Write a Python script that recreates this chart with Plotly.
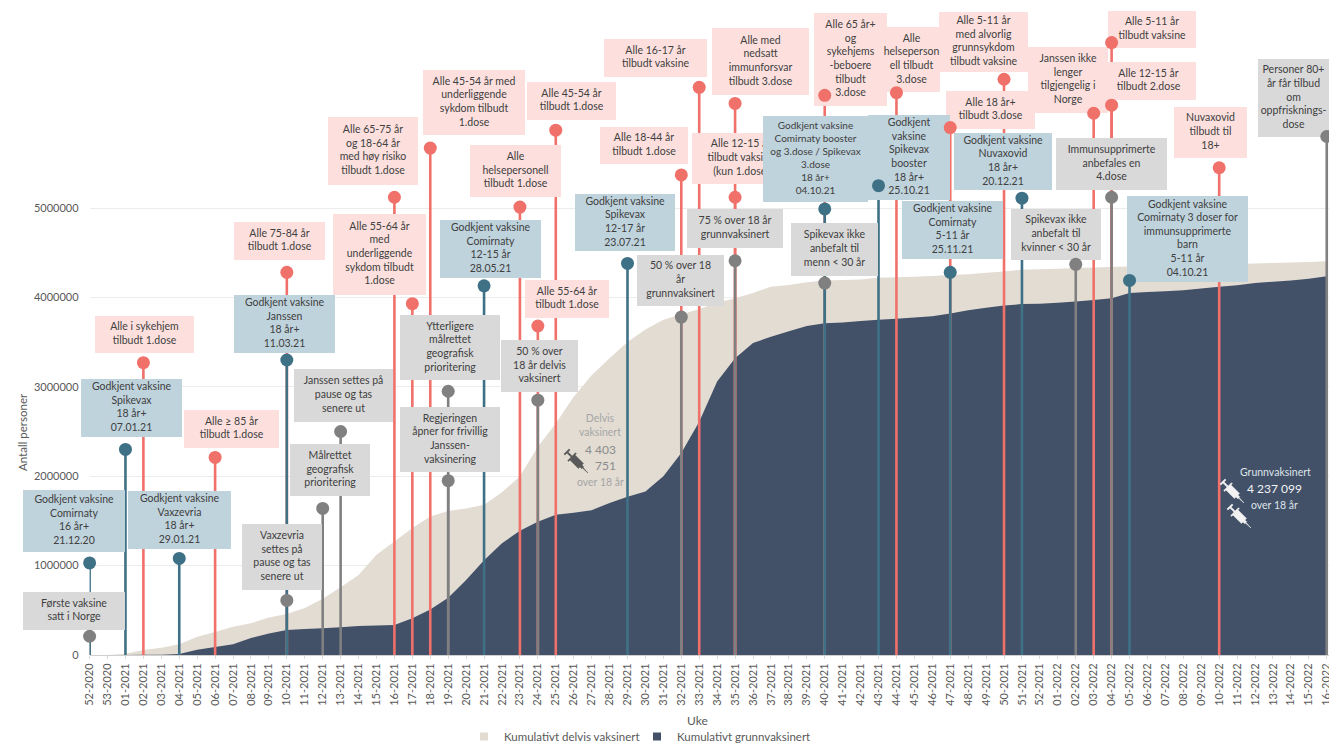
import math
import plotly.graph_objects as go

WIDTH, HEIGHT = 1329, 746
FONT = "Lato"

WEEKS = ["52-2020", "53-2020"] + [f"{w:02d}-2021" for w in range(1, 53)] + [f"{w:02d}-2022" for w in range(1, 17)]

PARTIAL = [0, 0, 15000, 56000, 80000, 120000, 205000, 257000, 317000, 355000, 420000, 460000, 525000, 630000,
           757000, 895000, 1120000, 1270000, 1420000, 1550000, 1610000, 1640000, 1680000, 1820000, 2000000,
           2330000, 2590000, 2890000, 3130000, 3320000, 3500000, 3640000, 3750000, 3810000, 3870000, 3940000,
           3990000, 4050000, 4120000, 4140000, 4170000, 4190000, 4195000, 4200000, 4220000, 4225000, 4230000,
           4240000, 4250000, 4260000, 4275000, 4290000, 4310000, 4315000, 4320000, 4330000, 4335000, 4340000,
           4345000, 4350000, 4355000, 4360000, 4365000, 4370000, 4375000, 4380000, 4385000, 4390000, 4395000,
           4403751]
FULL = [0, 0, 1000, 2000, 4000, 12000, 60000, 90000, 120000, 190000, 240000, 280000, 290000, 300000, 310000,
        325000, 330000, 335000, 410000, 510000, 640000, 840000, 1060000, 1250000, 1390000, 1490000, 1570000,
        1590000, 1620000, 1700000, 1770000, 1830000, 2000000, 2260000, 2610000, 3060000, 3320000, 3490000,
        3560000, 3620000, 3680000, 3710000, 3720000, 3735000, 3750000, 3760000, 3775000, 3790000, 3820000,
        3855000, 3885000, 3910000, 3925000, 3930000, 3940000, 3955000, 3970000, 3990000, 4050000, 4060000,
        4070000, 4080000, 4100000, 4120000, 4135000, 4160000, 4175000, 4190000, 4210000, 4237099]

TICK_VALUES = [0, 1000000, 2000000, 3000000, 4000000, 5000000]

RED_WEEKS = ["02-2021", "06-2021", "10-2021", "16-2021", "17-2021", "18-2021", "23-2021", "24-2021", "25-2021",
             "32-2021", "33-2021", "35-2021", "35-2021", "40-2021", "44-2021", "47-2021", "50-2021", "03-2022",
             "04-2022", "04-2022", "10-2022"]
RED_VALUES = [3270000, 2210000, 4280000, 5120000, 3930000, 5670000, 5010000, 3680000, 5870000,
              5370000, 6350000, 6170000, 5120000, 6260000, 6290000, 5900000, 6440000, 6060000,
              6150000, 6850000, 5450000]

TEAL_WEEKS = ["52-2020", "01-2021", "04-2021", "10-2021", "21-2021", "29-2021", "40-2021", "43-2021", "47-2021",
              "51-2021", "05-2022"]
TEAL_VALUES = [1030000, 2300000, 1080000, 3300000, 4130000, 4380000, 4990000, 5250000, 4280000, 5110000, 4190000]

GREY_WEEKS = ["52-2020", "10-2021", "12-2021", "13-2021", "19-2021", "19-2021", "24-2021", "32-2021", "35-2021",
              "40-2021", "02-2022", "04-2022", "16-2022"]
GREY_VALUES = [210000, 610000, 1640000, 2500000, 2950000, 1950000, 2850000, 3780000, 4410000, 4160000, 4370000,
               5120000, 5800000]

RED_LABELS = [
    "Alle i sykehjem<br>tilbudt 1.dose", "Alle ≥ 85 år<br>tilbudt 1.dose", "Alle 75-84 år<br>tilbudt 1.dose",
    "Alle 65-75 år<br>og 18-64 år<br>med høy risiko<br>tilbudt 1.dose",
    "Alle 55-64 år<br>med<br>underliggende<br>sykdom tilbudt<br>1.dose",
    "Alle 45-54 år med<br>underliggende<br>sykdom tilbudt<br>1.dose",
    "Alle<br>helsepersonell<br>tilbudt 1.dose", "Alle 45-54 år<br>tilbudt 1.dose", "Alle 55-64 år<br>tilbudt 1.dose",
    "Alle 18-44 år<br>tilbudt 1.dose", "Alle 16-17 år<br>tilbudt vaksine",
    "Alle 12-15 år<br>tilbudt vaksine<br>(kun 1.dose)", "Alle med<br>nedsatt<br>immunforsvar<br>tilbudt 3.dose",
    "Alle 65 år+<br>og<br>sykehjems<br>-beboere<br>tilbudt<br>3.dose",
    "Alle<br>helseperson<br>ell tilbudt<br>3.dose",
    "Alle 5-11 år<br>med alvorlig<br>grunnsykdom<br>tilbudt vaksine", "Alle 18 år+<br>tilbudt 3.dose",
    "Janssen ikke<br>lenger<br>tilgjengelig i<br>Norge", "Alle 5-11 år<br>tilbudt vaksine",
    "Alle 12-15 år<br>tilbudt 2.dose", "Nuvaxovid<br>tilbudt til<br>18+",
]
GREY_LABELS = [
    "Første vaksine<br>satt i Norge", "Vaxzevria<br>settes på<br>pause og tas<br>senere ut",
    "Janssen settes på<br>pause og tas<br>senere ut", "Målrettet<br>geografisk<br>prioritering",
    "Ytterligere<br>målrettet<br>geografisk<br>prioritering",
    "Regjeringen<br>åpner for frivillig<br>Janssen-<br>vaksinering",
    "50 % over<br>18 år delvis<br>vaksinert", "50 % over 18<br>år<br>grunnvaksinert",
    "75 % over 18 år<br>grunnvaksinert", "Spikevax ikke<br>anbefalt til<br>menn &lt; 30 år",
    "Spikevax ikke<br>anbefalt til<br>kvinner &lt; 30 år", "Immunsupprimerte<br>anbefales en<br>4.dose",
    "Personer 80+<br>år får tilbud<br>om<br>oppfrisknings-<br>dose",
]
TEAL_LABELS = [
    "Godkjent vaksine<br>Comirnaty<br>16 år+<br>21.12.20", "Godkjent vaksine<br>Spikevax<br>18 år+<br>07.01.21",
    "Godkjent vaksine<br>Vaxzevria<br>18 år+<br>29.01.21", "Godkjent vaksine<br>Janssen<br>18 år+<br>11.03.21",
    "Godkjent vaksine<br>Comirnaty<br>12-15 år<br>28.05.21", "Godkjent vaksine<br>Spikevax<br>12-17 år<br>23.07.21",
    "Godkjent vaksine<br>Comirnaty booster<br>og 3.dose / Spikevax<br>3.dose<br>18 år+<br>04.10.21",
    "Godkjent<br>vaksine<br>Spikevax<br>booster<br>18 år+<br>25.10.21",
    "Godkjent vaksine<br>Comirnaty<br>5-11 år<br>25.11.21", "Godkjent vaksine<br>Nuvaxovid<br>18 år+<br>20.12.21",
    "Godkjent vaksine<br>Comirnaty 3 doser for<br>immunsupprimerte<br>barn<br>5-11 år<br>04.10.21",
]

# Pixel boxes of the callouts, in the same order as the label lists (x0, y0, x1, y1).
RED_BOXES = [(95, 316, 194, 353), (184, 410, 279, 448), (234, 222, 325, 260), (328, 117, 418, 185),
             (333, 214, 426, 295), (423, 70, 525, 135), (470, 145, 561, 197), (527, 82, 616, 120),
             (525, 280, 609, 318), (600, 127, 688, 164), (604, 39, 707, 77), (692, 133, 790, 184),
             (712, 28, 809, 95), (814, 13, 887, 106), (883, 27, 940, 92), (939, 12, 1028, 72),
             (946, 91, 1035, 129), (1028, 47, 1108, 113), (1108, 11, 1196, 48), (1101, 62, 1196, 100),
             (1174, 107, 1247, 158)]
GREY_BOXES = [(23, 592, 125, 630), (242, 524, 322, 590), (294, 369, 393, 422), (290, 444, 370, 496),
              (400, 315, 500, 380), (400, 407, 500, 472), (501, 340, 578, 392), (637, 255, 724, 306),
              (687, 209, 783, 248), (791, 223, 878, 276), (1011, 209, 1101, 260), (1056, 138, 1167, 190),
              (1258, 59, 1329, 137)]
TEAL_BOXES = [(23, 490, 125, 552), (81, 379, 182, 437), (128, 491, 231, 549), (234, 295, 335, 353),
              (440, 220, 541, 278), (575, 194, 675, 251), (763, 116, 868, 202), (868, 115, 950, 200),
              (902, 201, 1003, 259), (954, 133, 1052, 190), (1127, 196, 1248, 282)]
NARROW_LABEL_SIZE = 10  # the long booster callout

RED, TEAL, GREY = "#f0706a", "#3f7186", "#808080"
PINK_BG, GREY_BG, TEAL_BG = "#fde0de", "#d9d9d9", "#bfd3dd"
BEIGE, NAVY = "#e2dcd3", "#425068"
TEXT = "#404040"
MUTED = "#595959"

PLOT_LEFT, PLOT_BOTTOM = 89.6, 655
WEEK_STEP = 17.93
PX_PER_UNIT = 89.4 / 1e6
X_RANGE = [0, (WIDTH - PLOT_LEFT) / WEEK_STEP]
Y_RANGE = [0, PLOT_BOTTOM / PX_PER_UNIT]

fig = go.Figure()

fig.add_trace(go.Scatter(x=WEEKS, y=PARTIAL, fill="tozeroy", mode="none", fillcolor=BEIGE,
                         showlegend=False, hoverinfo="skip"))
fig.add_trace(go.Scatter(x=WEEKS, y=FULL, fill="tozeroy", mode="none", fillcolor=NAVY,
                         showlegend=False, hoverinfo="skip"))


def stems(weeks, values, color):
    xs, ys = [], []
    for w, v in zip(weeks, values):
        xs += [w, w, None]
        ys += [0, v, None]
    fig.add_trace(go.Scatter(x=xs, y=ys, mode="lines", line=dict(color=color, width=2.6),
                             showlegend=False, hoverinfo="skip"))


stems(RED_WEEKS, RED_VALUES, RED)
stems(GREY_WEEKS, GREY_VALUES, GREY)
stems(TEAL_WEEKS, TEAL_VALUES, TEAL)


def callouts(rects, labels, color):
    xs, ys = [], []
    for x0, y0, x1, y1 in rects:
        xs += [x0, x1, x1, x0, x0, None]
        ys += [y0, y0, y1, y1, y0, None]
    fig.add_trace(go.Scatter(x=xs, y=ys, xaxis="x2", yaxis="y2", mode="lines", fill="toself", fillcolor=color,
                             line=dict(width=0, color=color), showlegend=False, hoverinfo="skip"))
    sizes = [NARROW_LABEL_SIZE if "og 3.dose" in t else 10.5 for t in labels]
    fig.add_trace(go.Scatter(x=[(r[0] + r[2]) / 2 for r in rects], y=[(r[1] + r[3]) / 2 for r in rects],
                             xaxis="x2", yaxis="y2", mode="text", text=labels, textposition="middle center",
                             textfont=dict(family=FONT, size=sizes, color=TEXT), cliponaxis=False,
                             showlegend=False, hoverinfo="skip"))


callouts(RED_BOXES, RED_LABELS, PINK_BG)
callouts(GREY_BOXES, GREY_LABELS, GREY_BG)
callouts(TEAL_BOXES, TEAL_LABELS, TEAL_BG)

for weeks, values, color in [(RED_WEEKS, RED_VALUES, RED), (GREY_WEEKS, GREY_VALUES, GREY),
                             (TEAL_WEEKS, TEAL_VALUES, TEAL)]:
    fig.add_trace(go.Scatter(x=weeks, y=values, xaxis="x3", yaxis="y3", mode="markers", cliponaxis=False,
                             marker=dict(color=color, size=13), showlegend=False, hoverinfo="skip"))

# Legend entries
fig.add_trace(go.Scatter(x=[None], y=[None], mode="markers", name="Kumulativt delvis vaksinert",
                         marker=dict(symbol="square", size=8, color=BEIGE)))
fig.add_trace(go.Scatter(x=[None], y=[None], mode="markers", name="Kumulativt grunnvaksinert",
                         marker=dict(symbol="square", size=8, color=NAVY)))

notes = []


def note(text, x, y, size=10.5, color=TEXT, angle=0):
    notes.append(dict(text=text, x=x, y=y, xref="x2", yref="y2", showarrow=False, xanchor="center",
                      yanchor="middle", align="center", textangle=angle,
                      font=dict(family=FONT, size=size, color=color)))


note("Delvis<br>vaksinert", 600, 425, 10.5, "#a6a6a6")
note("4 403", 600, 449, 12, "#8c8c8c")
note("751", 605, 465, 12, "#8c8c8c")
note("over 18 år", 600, 482, 10.5, "#a6a6a6")
note("Grunnvaksinert", 1275, 472, 10.5, "#dfe4ea")
note("4 237 099", 1274, 488, 12, "#f2f4f6")
note("over 18 år", 1274, 505, 10.5, "#dfe4ea")
note("Antall personer", 22, 432, 11.5, MUTED, -90)
note("Uke", 697, 720, 12, MUTED)


def syringe_path(cx, cy, scale=1.0, angle=45):
    parts = [
        [(-5, -3.6), (7, -3.6), (7, 3.6), (-5, 3.6)],
        [(-6.2, -5.5), (-5, -5.5), (-5, 5.5), (-6.2, 5.5)],
        [(-12, -0.8), (-6.2, -0.8), (-6.2, 0.8), (-12, 0.8)],
        [(-13.5, -3.6), (-12, -3.6), (-12, 3.6), (-13.5, 3.6)],
        [(7, -1.4), (9.5, -1.4), (9.5, 1.4), (7, 1.4)],
        [(9.5, -0.4), (17, 0), (9.5, 0.4)],
    ]
    c, s = math.cos(math.radians(angle)), math.sin(math.radians(angle))
    out = []
    for poly in parts:
        pts = [(cx + scale * (u * c - v * s), cy + scale * (u * s + v * c)) for u, v in poly]
        out.append("M" + " L".join(f"{px:.1f},{py:.1f}" for px, py in pts) + " Z")
    return " ".join(out)


SYRINGES = [(576, 461, "#595959"), (1232, 491, "#f2f2f2"), (1239, 516, "#f2f2f2")]
shapes = [dict(type="path", xref="x2", yref="y2", path=syringe_path(x, y), fillcolor=col,
               line=dict(width=0.5, color=col), layer="above") for x, y, col in SYRINGES]

main_x_domain = [PLOT_LEFT / WIDTH, 1]
main_y_domain = [(HEIGHT - PLOT_BOTTOM) / HEIGHT, 1]

fig.update_layout(
    width=WIDTH, height=HEIGHT, autosize=False,
    margin=dict(l=0, r=0, t=0, b=0, pad=0, autoexpand=False),
    paper_bgcolor="white", plot_bgcolor="rgba(0,0,0,0)",
    font=dict(family=FONT, size=11, color=MUTED),
    hovermode=False,
    annotations=notes, shapes=shapes,
    legend=dict(orientation="h", x=464 / WIDTH, xanchor="left", y=1 - 722 / HEIGHT, yanchor="top",
                font=dict(family=FONT, size=11.5, color=MUTED), bgcolor="rgba(0,0,0,0)",
                entrywidth=128, entrywidthmode="pixels", traceorder="normal"),
    xaxis=dict(domain=main_x_domain, range=X_RANGE, type="category", categoryorder="array", categoryarray=WEEKS,
               tickmode="array", tickvals=WEEKS, ticktext=WEEKS, tickangle=-90, automargin=False,
               tickfont=dict(family=FONT, size=11, color=MUTED), ticks="outside", ticklen=3, tickcolor="#d9d9d9",
               showgrid=False, showline=True, linecolor="#d0d0d0", linewidth=1, zeroline=False),
    yaxis=dict(domain=main_y_domain, range=Y_RANGE, tickmode="array", tickvals=TICK_VALUES,
               ticktext=[str(v) for v in TICK_VALUES], automargin=False, ticklabelstandoff=10,
               tickfont=dict(family=FONT, size=11, color=MUTED), ticks="", showgrid=True, gridcolor="#ececec",
               gridwidth=1, zeroline=False, showline=False),
    xaxis2=dict(domain=[0, 1], range=[0, WIDTH], anchor="y2", visible=False),
    yaxis2=dict(domain=[0, 1], range=[HEIGHT, 0], anchor="x2", visible=False),
    xaxis3=dict(domain=main_x_domain, range=X_RANGE, type="category", categoryorder="array", categoryarray=WEEKS,
                anchor="y3", visible=False),
    yaxis3=dict(domain=main_y_domain, range=Y_RANGE, anchor="x3", visible=False),
)

fig.write_html("out.html", config={"displayModeBar": False},
               post_script="document.body.style.margin='0';document.body.style.overflow='hidden';")
